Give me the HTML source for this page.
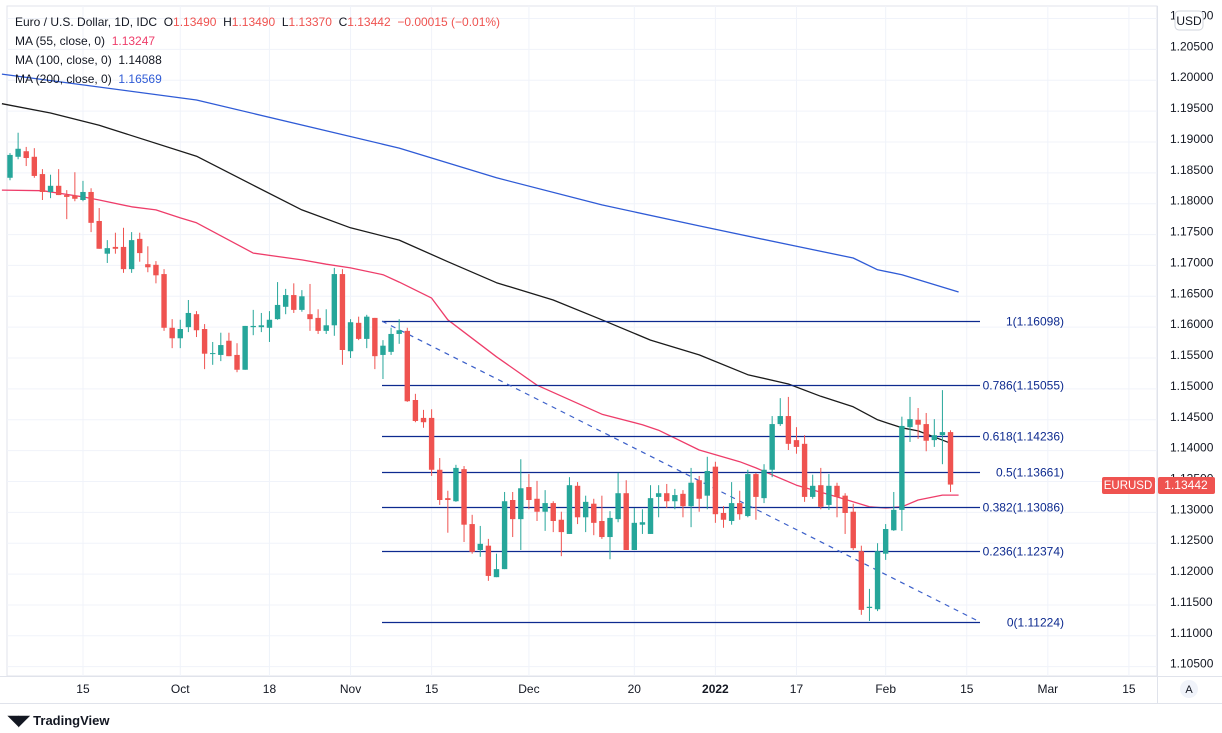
<!DOCTYPE html>
<html><head><meta charset="utf-8"><style>
body{margin:0;background:#fff;font-family:"Liberation Sans",sans-serif;}
svg{display:block}
</style></head><body>
<svg id="c" width="1222" height="733" font-family="Liberation Sans, sans-serif"></svg>
<script>
const opens=[1.1842,1.1876,1.1885,1.1876,1.1848,1.1819,1.1829,1.1814,1.1813,1.1806,1.1819,1.1772,1.1719,1.1730,1.1730,1.1694,1.1743,1.1702,1.1701,1.1686,1.1599,1.1582,1.1600,1.1621,1.1597,1.1557,1.1555,1.1578,1.1555,1.1531,1.1600,1.1600,1.1599,1.1613,1.1633,1.1652,1.1628,1.1621,1.1615,1.1594,1.1603,1.1686,1.1561,1.1607,1.1581,1.1615,1.1555,1.1560,1.1589,1.1594,1.1482,1.1453,1.1453,1.1369,1.1323,1.1318,1.1370,1.1281,1.1239,1.1246,1.1195,1.1208,1.1320,1.1289,1.1341,1.1322,1.1301,1.1315,1.1288,1.1265,1.1343,1.1292,1.1314,1.1286,1.1260,1.1289,1.1331,1.1239,1.1280,1.1265,1.1325,1.1331,1.1318,1.1330,1.1310,1.1352,1.1327,1.1374,1.1299,1.1286,1.1315,1.1294,1.1362,1.1323,1.1369,1.1443,1.1456,1.1417,1.1411,1.1325,1.1344,1.1312,1.1343,1.1327,1.1301,1.1237,1.1145,1.1143,1.1233,1.1271,1.1304,1.1438,1.1450,1.1443,1.1417,1.1425,1.1430];
const highs=[1.1882,1.1915,1.1892,1.1890,1.1856,1.1847,1.1856,1.1822,1.1851,1.1837,1.1825,1.1793,1.1741,1.1753,1.1761,1.1754,1.1753,1.1731,1.1707,1.1694,1.1613,1.1612,1.1644,1.1626,1.1605,1.1576,1.1591,1.1591,1.1574,1.1602,1.1628,1.1623,1.1626,1.1673,1.1662,1.1671,1.1660,1.1670,1.1629,1.1629,1.1696,1.1694,1.1613,1.1617,1.1620,1.1615,1.1579,1.1599,1.1613,1.1599,1.1492,1.1466,1.1467,1.1388,1.1335,1.1377,1.1375,1.1296,1.1278,1.1257,1.1233,1.1333,1.1333,1.1386,1.1362,1.1351,1.1336,1.1318,1.1301,1.1357,1.1349,1.1327,1.1322,1.1327,1.1302,1.1364,1.1352,1.1307,1.1305,1.1344,1.1344,1.1346,1.1338,1.1336,1.1372,1.1359,1.1390,1.1382,1.1310,1.1349,1.1335,1.1369,1.1364,1.1378,1.1456,1.1485,1.1487,1.1438,1.1425,1.1361,1.1372,1.1362,1.1348,1.1331,1.1314,1.1246,1.1176,1.1250,1.1281,1.1333,1.1455,1.1487,1.1469,1.1461,1.1451,1.1498,1.1433];
const lows=[1.1838,1.1872,1.1861,1.1842,1.1806,1.1809,1.1814,1.1775,1.1804,1.1804,1.1754,1.1727,1.1704,1.1719,1.1688,1.1688,1.1706,1.1689,1.1671,1.1594,1.1566,1.1566,1.1592,1.1584,1.1532,1.1539,1.1545,1.1553,1.1527,1.1531,1.1587,1.1592,1.1576,1.1612,1.1621,1.1623,1.1625,1.1594,1.1589,1.1589,1.1586,1.1539,1.1550,1.1579,1.1566,1.1532,1.1516,1.1555,1.1573,1.1479,1.1446,1.1437,1.1359,1.1312,1.1267,1.1317,1.1252,1.1233,1.1228,1.1189,1.1195,1.1208,1.1260,1.1239,1.1305,1.1286,1.1270,1.1268,1.1229,1.1265,1.1281,1.1268,1.1263,1.1257,1.1224,1.1284,1.1239,1.1239,1.1265,1.1265,1.1292,1.1307,1.1305,1.1292,1.1276,1.1301,1.1305,1.1283,1.1275,1.1280,1.1288,1.1292,1.1288,1.1315,1.1357,1.1440,1.1401,1.1395,1.1317,1.1322,1.1305,1.1304,1.1292,1.1265,1.1239,1.1134,1.1124,1.1140,1.1223,1.1270,1.1270,1.1414,1.1419,1.1399,1.1406,1.1378,1.1333];
const closes=[1.1879,1.1889,1.1874,1.1845,1.1819,1.1829,1.1814,1.1811,1.1808,1.1819,1.1769,1.1727,1.1728,1.1727,1.1694,1.1741,1.1720,1.1697,1.1684,1.1599,1.1582,1.1597,1.1623,1.1595,1.1557,1.1558,1.1571,1.1553,1.1531,1.1602,1.1602,1.1603,1.1612,1.1636,1.1652,1.1628,1.1650,1.1613,1.1594,1.1603,1.1686,1.1563,1.1608,1.1581,1.1617,1.1553,1.1570,1.1589,1.1595,1.1480,1.1448,1.1446,1.1369,1.1320,1.1320,1.1372,1.1280,1.1236,1.1249,1.1197,1.1208,1.1318,1.1289,1.1339,1.1320,1.1301,1.1315,1.1286,1.1268,1.1344,1.1292,1.1317,1.1283,1.1260,1.1291,1.1331,1.1239,1.1283,1.1284,1.1323,1.1331,1.1318,1.1328,1.1310,1.1348,1.1322,1.1367,1.1297,1.1288,1.1315,1.1297,1.1362,1.1325,1.1369,1.1443,1.1456,1.1411,1.1406,1.1325,1.1343,1.1309,1.1343,1.1325,1.1299,1.1242,1.1142,1.1147,1.1237,1.1273,1.1304,1.1440,1.1451,1.1442,1.1416,1.1425,1.1430,1.1345];
const ma55Idx=[-1,4,9,11,15,18,21,23,30,36,39,42,46,48,52,54,60,65,73,78,80,85,90,92,97,102,106,108,110,112,115,117];
const ma55Val=[1.1822,1.1821,1.1811,1.1806,1.1795,1.1790,1.1777,1.1769,1.1720,1.1709,1.1702,1.1696,1.1685,1.1673,1.1647,1.1612,1.1552,1.1506,1.1459,1.1442,1.1433,1.1401,1.1382,1.1372,1.1344,1.1325,1.1309,1.1307,1.1309,1.1320,1.1328,1.1328];
const ma100Idx=[-1,5,11,23,30,36,42,48,54,60,67,73,79,85,91,96,100,104,107,110,112,116];
const ma100Val=[1.1962,1.1947,1.1927,1.1877,1.1830,1.1790,1.1761,1.1741,1.1706,1.1672,1.1644,1.1612,1.1579,1.1555,1.1523,1.1508,1.1488,1.1471,1.1450,1.1437,1.1432,1.1412];
const ma200Idx=[-1,23,48,60,73,85,97,104,107,110,117];
const ma200Val=[1.2010,1.1968,1.1890,1.1842,1.1798,1.1764,1.1731,1.1712,1.1693,1.1685,1.1657];
const fibRatios=["1","0.786","0.618","0.5","0.382","0.236","0"];
const fibLevels=[1.16098,1.15055,1.14236,1.13661,1.13086,1.12374,1.11224];
const yTicks=[1.210,1.205,1.200,1.195,1.190,1.185,1.180,1.175,1.170,1.165,1.160,1.155,1.150,1.145,1.140,1.135,1.130,1.125,1.120,1.115,1.110,1.105];
const xLabels=["15","Oct","18","Nov","15","Dec","20","2022","17","Feb","15","Mar","15"];
const xLabelIdx=[9,21,32,42,52,64,77,87,97,108,118,128,138];
const lastPrice=1.13442;

const NS="http://www.w3.org/2000/svg";
const svg=document.getElementById('c');
const y=p=>(1.2130-p)/0.000162;
const x=i=>10+8.108*i;
function el(t,a,parent){const e=document.createElementNS(NS,t);for(const k in a)e.setAttribute(k,a[k]);(parent||svg).appendChild(e);return e;}
const CW=1157;
let r=el('rect',{x:7,y:6,width:CW-7,height:670,fill:'#fff',stroke:'#e0e3eb'});


yTicks.forEach(t=>{const yy=y(t);if(yy<6)return;
 let g=el('line',{x1:7,x2:CW,y1:yy,y2:yy,stroke:'#f0f3fa'});
 
 
 let tx=el('text',{x:1170,y:yy+1,'font-size':12,fill:'#131722'});tx.textContent=t.toFixed(5);
 
 
});
xLabels.forEach((l,k)=>{const xx=x(xLabelIdx[k]);
 let g=el('line',{x1:xx,x2:xx,y1:6,y2:676,stroke:'#f0f3fa'});
 
 
 let tx=el('text',{x:xx,y:693,'font-size':12,fill:'#131722','text-anchor':'middle','font-weight':l==='2022'?'bold':'normal'});tx.textContent=l;
 
 
});
el('line',{x1:CW+0.5,x2:CW+0.5,y1:6,y2:703,stroke:'#e0e3eb'});
el('line',{x1:0,x2:1222,y1:676.5,y2:676.5,stroke:'#e0e3eb'});
el('line',{x1:0,x2:1222,y1:703.5,y2:703.5,stroke:'#e0e3eb'});
function line(idx,val,col,name){const d=idx.map((i,k)=>(k?'L':'M')+x(i).toFixed(1)+','+y(val[k]).toFixed(1)).join('');
 let p=el('path',{d:d,fill:'none',stroke:col,'stroke-width':1.3,'stroke-linejoin':'round'});
 
 }
line(ma200Idx,ma200Val,'#2f5bd6','ma200-line');
line(ma100Idx,ma100Val,'#1b1b1b','ma100-line');
line(ma55Idx,ma55Val,'#ee3d6a','ma55-line');
const fx1=382,fx2=980;
fibLevels.forEach((v,k)=>{const yy=Math.round(y(v))+0.5;
 let l=el('line',{x1:fx1,x2:fx2,y1:yy,y2:yy,stroke:'#0d2a8f','stroke-width':1.2});
 
 
 let t=el('text',{x:1064,y:yy+4,'font-size':12,fill:'#0d2a8f','text-anchor':'end'});t.textContent=fibRatios[k]+'('+v.toFixed(5)+')';
 
 
});
let tl=el('line',{x1:fx1,y1:y(fibLevels[0]),x2:fx2,y2:y(fibLevels[6]),stroke:'#3b5fc9','stroke-width':1.2,'stroke-dasharray':'5,5'});


opens.forEach((o,i)=>{const c=closes[i],up=c>=o,col=up?'#26a69a':'#ef5350',xx=x(i);
 const g=el('g',{});
 
 
 el('line',{x1:xx,x2:xx,y1:y(highs[i]),y2:y(lows[i]),stroke:col,'stroke-width':1},g);
 const t=y(Math.max(o,c)),b=y(Math.min(o,c));
 el('rect',{x:xx-2.7,y:t,width:5.4,height:Math.max(1,b-t),fill:col},g);
});
const ly=y(lastPrice);
let b1=el('rect',{x:1102,y:ly-8,width:53,height:17,rx:2,fill:'#ef5350'});


let t1=el('text',{x:1128,y:ly+4,'font-size':11.5,fill:'#fff','text-anchor':'middle'});t1.textContent='EURUSD';
let b2=el('rect',{x:1158,y:ly-8,width:57,height:17,rx:2,fill:'#ef5350'});


let t2=el('text',{x:1186,y:ly+4,'font-size':12,fill:'#fff','text-anchor':'middle'});t2.textContent=lastPrice.toFixed(5);
let ub=el('rect',{x:1175,y:11,width:28,height:19,rx:4,fill:'#fff',stroke:'#d1d4dc'});


let ut=el('text',{x:1189,y:25,'font-size':12,fill:'#131722','text-anchor':'middle'});ut.textContent='USD';
let ac=el('circle',{cx:1189,cy:689,r:9,fill:'#f0f3fa'});


let at=el('text',{x:1189,y:693,'font-size':11,fill:'#131722','text-anchor':'middle'});at.textContent='A';
</script>
<div style="position:absolute;left:15px;top:13px;font-size:12px;line-height:19px;color:#131722;">
<div>Euro / U.S. Dollar, 1D, IDC&nbsp; O<span style="color:#ef5350">1.13490</span>&nbsp; H<span style="color:#ef5350">1.13490</span>&nbsp; L<span style="color:#ef5350">1.13370</span>&nbsp; C<span style="color:#ef5350">1.13442</span>&nbsp; <span style="color:#ef5350">−0.00015 (−0.01%)</span></div>
<div>MA (55, close, 0)&nbsp; <span style="color:#ee3d6a">1.13247</span></div>
<div>MA (100, close, 0)&nbsp; 1.14088</div>
<div>MA (200, close, 0)&nbsp; <span style="color:#2f5bd6">1.16569</span></div>
</div>
<div style="position:absolute;left:8px;top:712px;font-size:13px;color:#131722;font-weight:bold;"><span style="font-size:14px">◥◤</span> TradingView</div>
</body></html>
